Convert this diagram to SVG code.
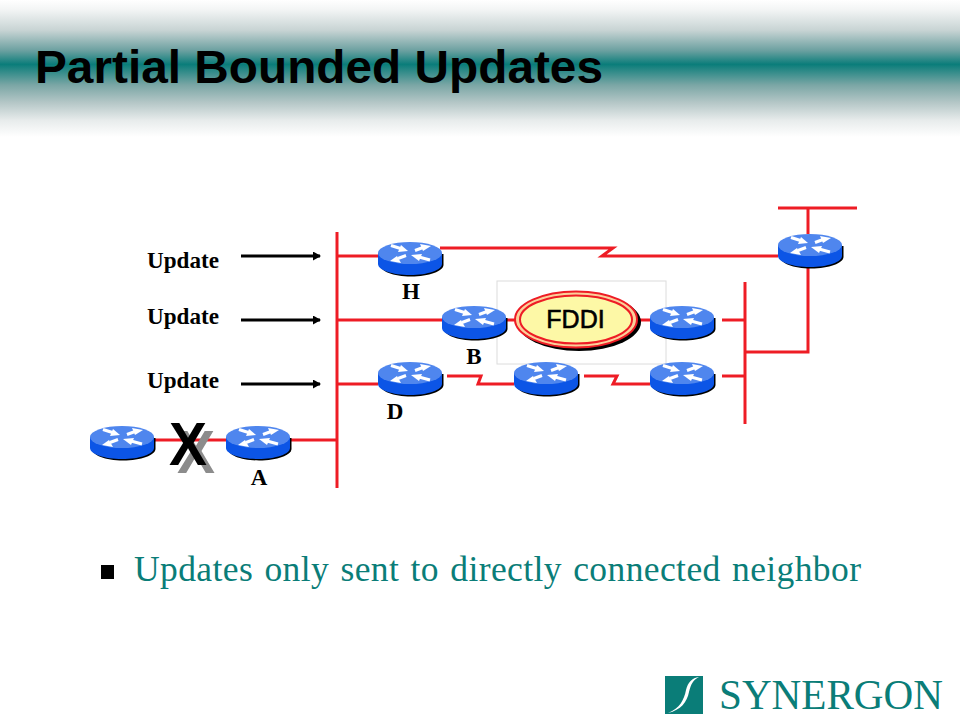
<svg xmlns="http://www.w3.org/2000/svg" width="960" height="720" viewBox="0 0 960 720">
<style>
.net{fill:none;stroke:#ee1c25;stroke-width:3}
.arr{stroke:#000;stroke-width:3;marker-end:url(#ah)}
.upd{font:bold 24px "Liberation Serif",serif;fill:#000}
.lab{font:bold 23px "Liberation Serif",serif;fill:#000;text-anchor:middle}
.x{font:bold 61px "Liberation Sans",Arial,sans-serif}
.ra{stroke:#fff;stroke-width:3;fill:none}
</style>
<defs>
<linearGradient id="band" x1="0" y1="0" x2="0" y2="1">
<stop offset="0" stop-color="#fff"/><stop offset=".07" stop-color="#f3f5f5"/><stop offset=".22" stop-color="#c8d4d4"/><stop offset=".37" stop-color="#6ba0a0"/><stop offset=".47" stop-color="#0a7d7a"/><stop offset=".62" stop-color="#7aa6a5"/><stop offset=".75" stop-color="#b5c7c7"/><stop offset=".88" stop-color="#e8ecec"/><stop offset="1" stop-color="#fff"/>
</linearGradient>
<marker id="ah" markerWidth="8" markerHeight="9" refX="7" refY="4.500" orient="auto" markerUnits="userSpaceOnUse"><path d="M0 0L8 4.500L0 9z" fill="#000"/></marker>
<g id="router">
<path d="M2 12V23C2 29 15 34.500 33 34.500S65.500 29 65.500 23V12z" fill="#000"/>
<path d="M0 11V22C0 28 14 33 32 33S64 28 64 22V11z" fill="#0c55e6"/>
<ellipse cx="32" cy="11" rx="32" ry="11" fill="#4f86ee"/>
<path class="ra" d="M13 3.500L24 7"/><path fill="#fff" d="M30 9L20 10L23 3z"/>
<path class="ra" d="M37 8.500L45 5.500"/><path fill="#fff" d="M53 4L42 2L45 9z"/>
<path class="ra" d="M28 13.500L20 16.500"/><path fill="#fff" d="M12 19L23 21L19 14z"/>
<path class="ra" d="M52 18L41 15"/><path fill="#fff" d="M33 13L44 12L41 19z"/>
</g>
</defs>
<rect id="background" width="960" height="720" fill="#fff"/>
<rect id="band-fill" y="0" width="960" height="137" fill="url(#band)"/>
<text x="35" y="82.500" font-family="'Liberation Sans',Arial,sans-serif" font-weight="bold" font-size="46" textLength="568" lengthAdjust="spacingAndGlyphs" fill="#000">Partial Bounded Updates</text>
<rect x="497" y="281" width="169" height="83" fill="none" stroke="#dcdcdc"/>
<g id="connectors">
<path class="net" d="M337 232V488"/>
<path class="net" d="M337 256H378"/>
<path class="net" d="M337 320H442"/>
<path class="net" d="M337 384H378"/>
<path class="net" d="M290 440H337"/>
<path class="net" d="M155 440H226"/>
<path class="net" d="M440 248H613L602 256H778"/>
<path class="net" d="M490 320H520"/>
<path class="net" d="M640 320H650"/>
<path class="net" d="M722 320H745"/>
<path class="net" d="M722 376H745"/>
<path class="net" d="M745 282V424"/>
<path class="net" d="M745 352H808V264"/>
<path class="net" d="M808 208V234"/>
<path class="net" d="M778 208H857"/>
<path class="net" d="M447 376H481L478 384H514"/>
<path class="net" d="M584 376H617L613 384H650"/>
<path class="arr" d="M241 256H320"/>
<path class="arr" d="M241 320H320"/>
<path class="arr" d="M241 384H320"/>
</g>
<g id="node-H"><use href="#router" x="378" y="242"/><text class="lab" x="411" y="299">H</text></g>
<g id="node-B"><use href="#router" x="442" y="306"/><text class="lab" x="474" y="364">B</text></g>
<g id="node-R1"><use href="#router" x="650" y="306"/></g>
<g id="node-D"><use href="#router" x="378" y="362"/><text class="lab" x="395" y="419">D</text></g>
<g id="node-R2"><use href="#router" x="514" y="362"/></g>
<g id="node-R3"><use href="#router" x="650" y="362"/></g>
<g id="node-R4"><use href="#router" x="778" y="234"/></g>
<g id="node-R5"><use href="#router" x="90" y="426"/></g>
<g id="node-A"><use href="#router" x="226" y="426"/><text class="lab" x="259" y="485">A</text></g>
<g id="node-FDDI">
<ellipse cx="579" cy="322" rx="62" ry="29" fill="#000"/>
<ellipse cx="576" cy="319.500" rx="61" ry="28" fill="#fbd09a" stroke="#ee1c25" stroke-width="2"/>
<ellipse cx="576" cy="319.500" rx="56" ry="24" fill="#fdf8a6" stroke="#ee1c25" stroke-width="2"/>
<text x="575.500" y="328" font-family="'Liberation Sans',Arial,sans-serif" font-size="25" text-anchor="middle" stroke="#000" stroke-width=".6" fill="#000">FDDI</text>
</g>
<text class="upd" x="147" y="268" textLength="72" lengthAdjust="spacingAndGlyphs">Update</text>
<text class="upd" x="147" y="324" textLength="72" lengthAdjust="spacingAndGlyphs">Update</text>
<text class="upd" x="147" y="388" textLength="72" lengthAdjust="spacingAndGlyphs">Update</text>
<text class="x" x="177" y="473" fill="#8c8c8c" textLength="38" lengthAdjust="spacingAndGlyphs">X</text>
<text class="x" x="169" y="465" fill="#000" textLength="38" lengthAdjust="spacingAndGlyphs">X</text>
<rect x="101" y="565" width="13" height="14" fill="#000"/>
<text x="134" y="581" font-family="'Liberation Serif','Times New Roman',serif" font-size="35.500" word-spacing="2" textLength="727" fill="#0a7d78">Updates only sent to directly connected neighbor</text>
<rect x="665" y="676" width="38" height="38" fill="#0a7d78"/>
<path d="M668 713C680 708 684 700 686 690C688 682 692 678 699 677C693 680 691 684 689 692C687 702 681 710 668 713z" fill="#fff"/>
<text x="719" y="709" font-family="'Liberation Serif','Times New Roman',serif" font-size="43" textLength="224" lengthAdjust="spacingAndGlyphs" fill="#0a7d78">SYNERGON</text>
</svg>
